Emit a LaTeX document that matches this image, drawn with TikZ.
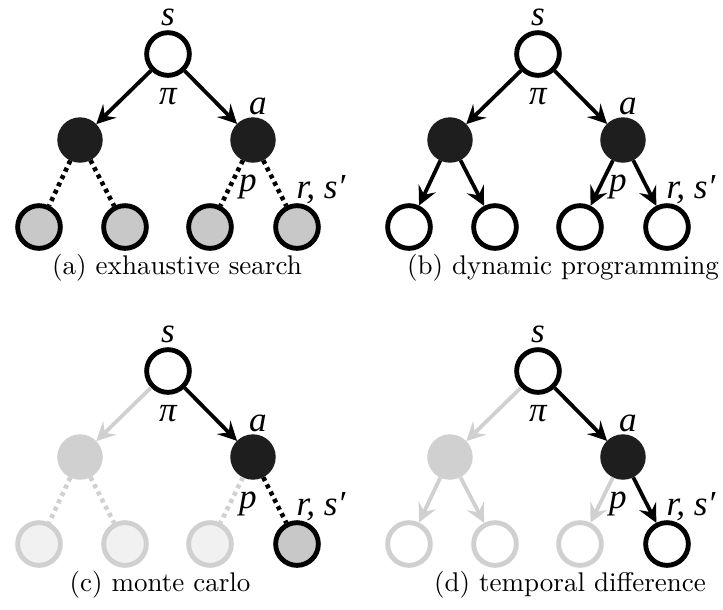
\documentclass[tikz,border=0pt]{standalone}
\usepackage{fontspec}
\usetikzlibrary{arrows.meta}
\newfontfamily\lblfont{Liberation Serif}
\definecolor{nodeblack}{HTML}{1E1E1E}
\definecolor{leafgray}{HTML}{C8C8C8}
\definecolor{fadegray}{HTML}{D0D0D0}
\definecolor{fadefill}{HTML}{F1F1F1}
\tikzset{
	state/.style={circle, draw=black, line width=1.8pt, fill=white, minimum size=15.8pt, inner sep=0pt},
	action/.style={circle, draw=nodeblack, fill=nodeblack, line width=0.4pt, minimum size=16.4pt, inner sep=0pt},
	sample/.style={state, fill=leafgray},
	fadedstate/.style={state, draw=fadegray},
	fadedsample/.style={state, draw=fadegray, fill=fadefill},
	fadedaction/.style={action, draw=fadegray, fill=fadegray},
	arr/.style={-{Stealth[length=7pt,width=7pt,inset=2.6pt]}, line width=1.4pt},
	dots/.style={line width=1.7pt, dash pattern=on 1.5pt off 1.5pt},
	lbl/.style={font=\lblfont\itshape\fontsize{13}{15}\selectfont, inner sep=0pt},
	caption/.style={font=\normalsize, inner sep=0pt}
}
\begin{document}
\begin{tikzpicture}[x=0.37pt, y=-0.37pt]
			\useasboundingbox (0,0) rectangle (723,609);
			
			% (a) exhaustive search
			\node[state] (a-s) at (168,54) {};
			\node[action] (a-l) at (80,140) {};
			\node[action] (a-r) at (253,140) {};
			\node[sample] (a-1) at (39,227) {};
			\node[sample] (a-2) at (125,227) {};
			\node[sample] (a-3) at (210,227) {};
			\node[sample] (a-4) at (297,227) {};
			\draw[arr] (a-s) -- (a-l);
			\draw[arr] (a-s) -- (a-r);
			\draw[dots] (a-l) -- (a-1);
			\draw[dots] (a-l) -- (a-2);
			\draw[dots] (a-r) -- (a-3);
			\draw[dots] (a-r) -- (a-4);
			\node[lbl] (a-ls) at (168,17) {s};
			\node[lbl] (a-lpi) at (168,97) {π};
			\node[lbl] (a-la) at (258,106) {a};
			\node[lbl] (a-lp) at (248,187) {p};
			\node[lbl] (a-lr) at (321,190) {r, s′};
			\node[caption] (a-cap) at (177,268) {(a) exhaustive search};
			
			% (b) dynamic programming
			\begin{scope}[shift={(370,0)}]
				\node[state] (b-s) at (168,54) {};
				\node[action] (b-l) at (80,140) {};
				\node[action] (b-r) at (253,140) {};
				\node[state] (b-1) at (39,227) {};
				\node[state] (b-2) at (125,227) {};
				\node[state] (b-3) at (210,227) {};
				\node[state] (b-4) at (297,227) {};
				\draw[arr] (b-s) -- (b-l);
				\draw[arr] (b-s) -- (b-r);
				\draw[arr] (b-l) -- (b-1);
				\draw[arr] (b-l) -- (b-2);
				\draw[arr] (b-r) -- (b-3);
				\draw[arr] (b-r) -- (b-4);
				\node[lbl] (b-ls) at (168,17) {s};
				\node[lbl] (b-lpi) at (168,97) {π};
				\node[lbl] (b-la) at (258,106) {a};
				\node[lbl] (b-lp) at (248,187) {p};
				\node[lbl] (b-lr) at (321,190) {r, s′};
				\node[caption] (b-cap) at (193,268) {(b) dynamic programming};
			\end{scope}
			
			% (c) monte carlo
			\begin{scope}[shift={(0,317)}]
				\node[state] (c-s) at (168,54) {};
				\node[fadedaction] (c-l) at (80,140) {};
				\node[action] (c-r) at (253,140) {};
				\node[fadedsample] (c-1) at (39,227) {};
				\node[fadedsample] (c-2) at (125,227) {};
				\node[fadedsample] (c-3) at (210,227) {};
				\node[sample] (c-4) at (297,227) {};
				\draw[arr, fadegray] (c-s) -- (c-l);
				\draw[arr] (c-s) -- (c-r);
				\draw[dots, fadegray] (c-l) -- (c-1);
				\draw[dots, fadegray] (c-l) -- (c-2);
				\draw[dots, fadegray] (c-r) -- (c-3);
				\draw[dots] (c-r) -- (c-4);
				\node[lbl] (c-ls) at (168,17) {s};
				\node[lbl] (c-lpi) at (168,97) {π};
				\node[lbl] (c-la) at (258,106) {a};
				\node[lbl] (c-lp) at (248,187) {p};
				\node[lbl] (c-lr) at (321,190) {r, s′};
				\node[caption] (c-cap) at (160,268) {(c) monte carlo};
			\end{scope}
			
			% (d) temporal difference
			\begin{scope}[shift={(370,317)}]
				\node[state] (d-s) at (168,54) {};
				\node[fadedaction] (d-l) at (80,140) {};
				\node[action] (d-r) at (253,140) {};
				\node[fadedstate] (d-1) at (39,227) {};
				\node[fadedstate] (d-2) at (125,227) {};
				\node[fadedstate] (d-3) at (210,227) {};
				\node[state] (d-4) at (297,227) {};
				\draw[arr, fadegray] (d-s) -- (d-l);
				\draw[arr] (d-s) -- (d-r);
				\draw[arr, fadegray] (d-l) -- (d-1);
				\draw[arr, fadegray] (d-l) -- (d-2);
				\draw[arr, fadegray] (d-r) -- (d-3);
				\draw[arr] (d-r) -- (d-4);
				\node[lbl] (d-ls) at (168,17) {s};
				\node[lbl] (d-lpi) at (168,97) {π};
				\node[lbl] (d-la) at (258,106) {a};
				\node[lbl] (d-lp) at (248,187) {p};
				\node[lbl] (d-lr) at (321,190) {r, s′};
				\node[caption] (d-cap) at (200,268) {(d) temporal difference};
			\end{scope}
		\end{tikzpicture}
\end{document}
